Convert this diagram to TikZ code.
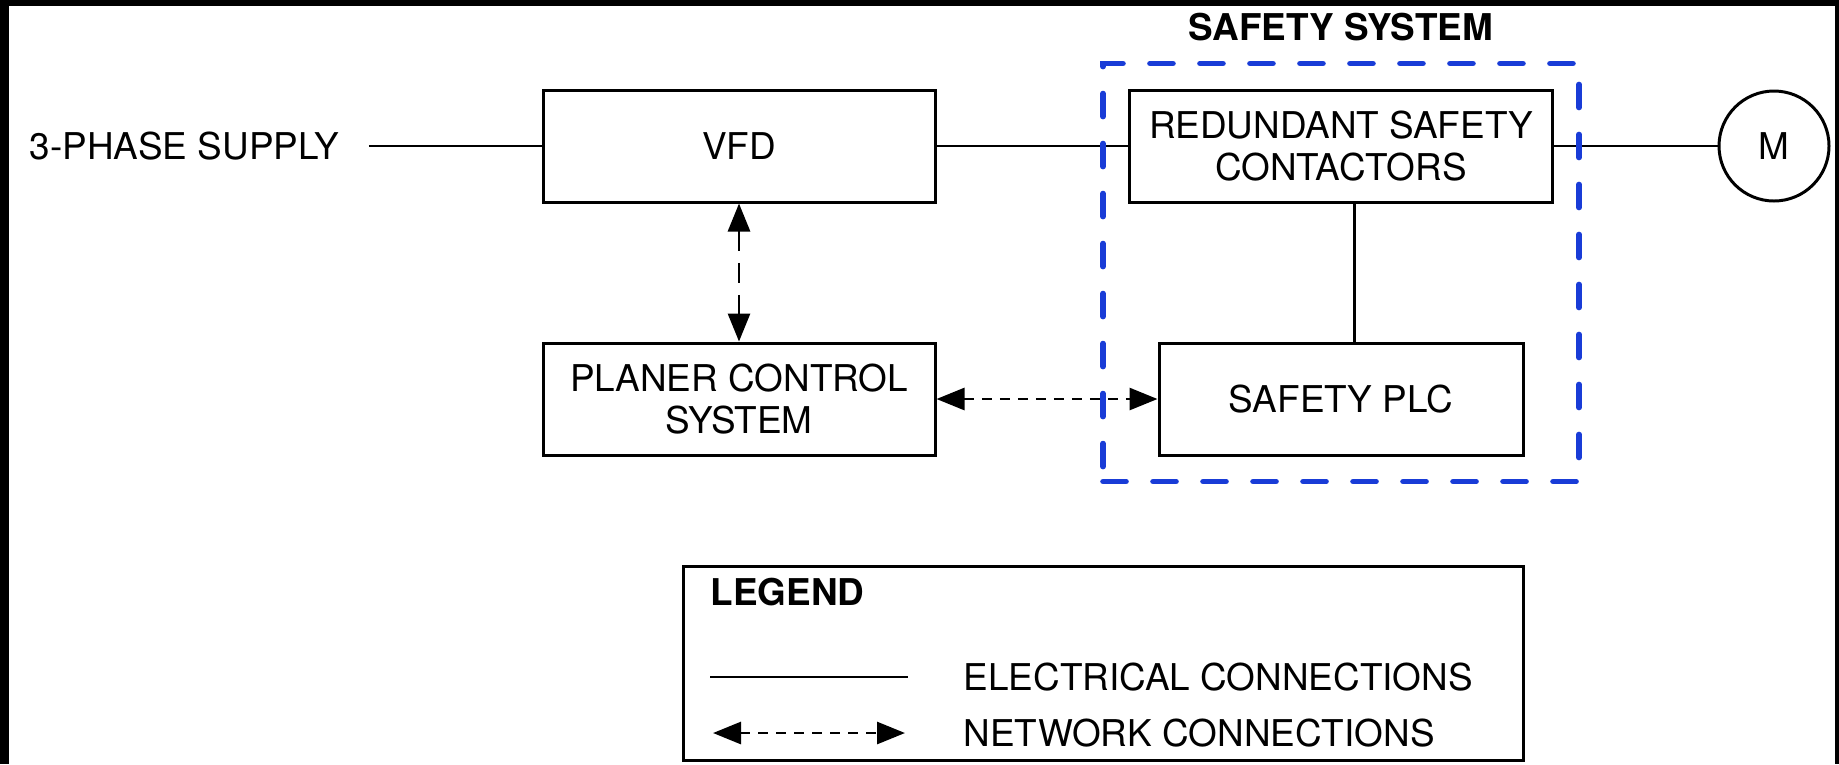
\documentclass[tikz,border=0pt]{standalone}
\usepackage{fontspec}
\setmainfont{TeX Gyre Heros}
\usetikzlibrary{arrows.meta,fit}
\definecolor{safetyblue}{RGB}{25,60,215}

\begin{document}
\begin{tikzpicture}[
   font=\fontsize{10.5}{11.95}\selectfont,
   block/.style={draw, line width=0.85pt, minimum height=1.12cm, align=center, inner sep=0pt},
   wire/.style={line width=0.75pt},
   netlink/.style={line width=0.8pt, dash pattern=on 0.1cm off 0.08cm,
      {Triangle[length=0.28cm,width=0.22cm]}-{Triangle[length=0.28cm,width=0.22cm]}}
]

   \useasboundingbox (0,0) rectangle (18.39,-7.64);
   \fill[black] (0,0) rectangle (18.39,-7.64);
   \fill[white] (0.09,-0.06) rectangle (18.35,-7.64);

   % blocks
   \node[anchor=west, inner sep=0pt] (supply) at (0.29,-1.46) {3-PHASE SUPPLY};
   \node[block, minimum width=3.92cm] (vfd) at (7.39,-1.46) {VFD};
   \node[block, minimum width=4.23cm] (rsc) at (13.41,-1.46) {REDUNDANT SAFETY\\CONTACTORS};
   \node[draw, circle, line width=0.85pt, minimum size=1.10cm, inner sep=0pt] (motor) at (17.74,-1.46) {M};
   \node[block, minimum width=3.92cm] (pcs) at (7.39,-3.99) {PLANER CONTROL\\SYSTEM};
   \node[block, minimum width=3.64cm] (plc) at (13.41,-3.99) {SAFETY PLC};

   % connections
   \draw[wire] ([xshift=0.29cm]supply.east) -- (vfd.west);
   \draw[wire] (vfd.east) -- (rsc.west);
   \draw[wire] (rsc.east) -- (motor.west);
   \draw[wire] ([xshift=0.135cm]rsc.south) -- ([xshift=0.135cm]plc.north);
   \draw[netlink, dash pattern=on 0.2cm off 0.12cm] (vfd.south) -- (pcs.north);
   \draw[netlink] (pcs.east) -- (plc.west);

   % safety system
   \node[draw=safetyblue, line width=1.6pt, line cap=round, dash pattern=on 0.23cm off 0.27cm,
      fit=(rsc)(plc), inner sep=0.25cm] (safety) {};
   \node (safetytitle) at (13.41,-0.27) {\bfseries SAFETY SYSTEM};

   % legend
   \node[draw, line width=0.85pt, minimum width=8.40cm, minimum height=1.94cm, inner sep=0pt] (legend) at (11.03,-6.63) {};
   \node[anchor=base west, inner sep=0pt] (legendtitle) at (7.10,-6.05) {\bfseries LEGEND};
   \coordinate (elecA) at (7.10,-6.77);
   \coordinate (elecB) at (9.08,-6.77);
   \draw[wire] (elecA) -- (elecB);
   \node[anchor=west, inner sep=0pt] (electext) at (9.63,-6.77) {ELECTRICAL CONNECTIONS};
   \coordinate (netA) at (7.13,-7.33);
   \coordinate (netB) at (9.05,-7.33);
   \draw[netlink] (netA) -- (netB);
   \node[anchor=west, inner sep=0pt] (nettext) at (9.63,-7.33) {NETWORK CONNECTIONS};

\end{tikzpicture}
\end{document}
